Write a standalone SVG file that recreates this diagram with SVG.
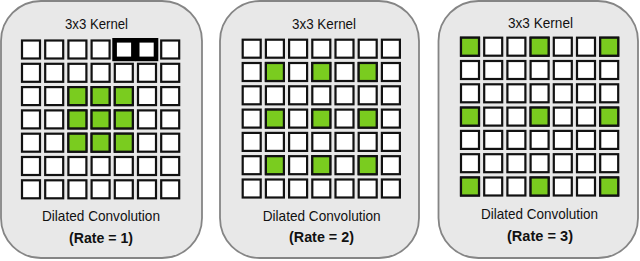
<svg xmlns="http://www.w3.org/2000/svg" xmlns:xlink="http://www.w3.org/1999/xlink" width="640" height="261" viewBox="0 0 640 261">
<style>
.panel{fill:#e8e8e8;stroke:#858585;stroke-width:1.8}
.cell{stroke:#111;stroke-width:2.2}
.w{fill:#fff}
.g{fill:#7acc1f}
.k{fill:#fff;stroke:#000;stroke-width:4.6}
.t{font-family:"Liberation Sans",Arial,sans-serif;font-size:15px;fill:#111;text-anchor:middle}
.b{font-weight:bold}
</style>
<defs>
<rect id="c" class="cell" x="1" y="1" width="18" height="18"/>
<g id="row">
<use href="#c" x="0" class="w"/><use href="#c" x="23.2" class="w"/><use href="#c" x="46.4" class="w"/><use href="#c" x="69.6" class="w"/><use href="#c" x="92.8" class="w"/><use href="#c" x="116" class="w"/><use href="#c" x="139.2" class="w"/>
</g>
</defs>

<g id="panel1">
<rect class="panel" x="1" y="1" width="201" height="257" rx="40" ry="40"/>
<text class="t" x="96.5" y="29" textLength="63" lengthAdjust="spacingAndGlyphs">3x3 Kernel</text>
<g transform="translate(21,39.5)">
<use href="#row" y="0"/><use href="#row" y="23.3"/><use href="#row" y="46.6"/><use href="#row" y="69.9"/><use href="#row" y="93.2"/><use href="#row" y="116.5"/><use href="#row" y="139.8"/>
<use href="#c" class="g" x="46.4" y="46.6"/><use href="#c" class="g" x="69.6" y="46.6"/><use href="#c" class="g" x="92.8" y="46.6"/>
<use href="#c" class="g" x="46.4" y="69.9"/><use href="#c" class="g" x="69.6" y="69.9"/><use href="#c" class="g" x="92.8" y="69.9"/>
<use href="#c" class="g" x="46.4" y="93.2"/><use href="#c" class="g" x="69.6" y="93.2"/><use href="#c" class="g" x="92.8" y="93.2"/>
<rect class="k" x="93.6" y="0.8" width="18.8" height="18.6"/>
<rect class="k" x="116.2" y="0.8" width="18.8" height="18.6"/>
</g>
<text class="t" x="101" y="221" textLength="118" lengthAdjust="spacingAndGlyphs">Dilated Convolution</text>
<text class="t b" x="101" y="243" textLength="64" lengthAdjust="spacingAndGlyphs">(Rate = 1)</text>
</g>

<g id="panel2">
<rect class="panel" x="220" y="1" width="199" height="257" rx="40" ry="40"/>
<text class="t" x="324" y="29" textLength="64" lengthAdjust="spacingAndGlyphs">3x3 Kernel</text>
<g transform="translate(241.7,38.7)">
<use href="#row" y="0"/><use href="#row" y="23.3"/><use href="#row" y="46.6"/><use href="#row" y="69.9"/><use href="#row" y="93.2"/><use href="#row" y="116.5"/><use href="#row" y="139.8"/>
<use href="#c" class="g" x="23.2" y="23.3"/><use href="#c" class="g" x="69.6" y="23.3"/><use href="#c" class="g" x="116" y="23.3"/>
<use href="#c" class="g" x="23.2" y="69.9"/><use href="#c" class="g" x="69.6" y="69.9"/><use href="#c" class="g" x="116" y="69.9"/>
<use href="#c" class="g" x="23.2" y="116.5"/><use href="#c" class="g" x="69.6" y="116.5"/><use href="#c" class="g" x="116" y="116.5"/>
</g>
<text class="t" x="321.7" y="220.5" textLength="118" lengthAdjust="spacingAndGlyphs">Dilated Convolution</text>
<text class="t b" x="321.5" y="242" textLength="65" lengthAdjust="spacingAndGlyphs">(Rate = 2)</text>
</g>

<g id="panel3">
<rect class="panel" x="438.5" y="1" width="199.5" height="257" rx="40" ry="40"/>
<text class="t" x="540.5" y="28" textLength="65" lengthAdjust="spacingAndGlyphs">3x3 Kernel</text>
<g transform="translate(460,36.7)">
<use href="#row" y="0"/><use href="#row" y="23.3"/><use href="#row" y="46.6"/><use href="#row" y="69.9"/><use href="#row" y="93.2"/><use href="#row" y="116.5"/><use href="#row" y="139.8"/>
<use href="#c" class="g" x="0" y="0"/><use href="#c" class="g" x="69.6" y="0"/><use href="#c" class="g" x="139.2" y="0"/>
<use href="#c" class="g" x="0" y="69.9"/><use href="#c" class="g" x="69.6" y="69.9"/><use href="#c" class="g" x="139.2" y="69.9"/>
<use href="#c" class="g" x="0" y="139.8"/><use href="#c" class="g" x="69.6" y="139.8"/><use href="#c" class="g" x="139.2" y="139.8"/>
</g>
<text class="t" x="539.5" y="218.5" textLength="117" lengthAdjust="spacingAndGlyphs">Dilated Convolution</text>
<text class="t b" x="540" y="241" textLength="66" lengthAdjust="spacingAndGlyphs">(Rate = 3)</text>
</g>
</svg>
